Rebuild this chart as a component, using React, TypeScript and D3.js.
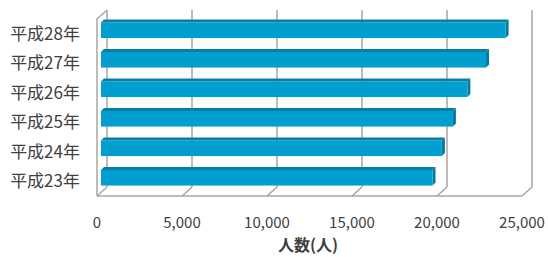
import React, { useEffect } from 'react';
import * as d3 from 'd3';

// data (平成23年 .. 平成28年)
const categories = ['平成23年', '平成24年', '平成25年', '平成26年', '平成27年', '平成28年'];
const values = [19500, 20050, 20700, 21550, 22650, 23800];
const ticks = [0, 5000, 10000, 15000, 20000, 25000];
const axisTitle = '人数(人)';

const W = 548;
const H = 257;
const font = '"Noto Sans CJK JP", "Noto Sans", sans-serif';

// 3D depth offsets
const DEPTH = { dx: 10, dy: -9 };
const BAR_OFF = { dx: 4, dy: -3.5 }; // bar front face within depth
const BAR_DEPTH = { dx: 3, dy: -3 };

const App: React.FC = () => {
  useEffect(() => {
    document.body.style.margin = '0';
    document.body.style.overflow = 'hidden';
  }, []);

  const x = d3.scaleLinear().domain([0, 25000]).range([97, 522]);
  const y = d3
    .scaleBand<string>()
    .domain([...categories].reverse())
    .range([19, 196])
    .paddingInner(0.47)
    .paddingOuter(0.235);

  const floorY = 196;
  const topY = 19;
  const grid = '#a6a6a6';

  return (
    <div style={{ position: 'fixed', left: 0, top: 0, width: W, height: H }}>
      <svg width={W} height={H} style={{ display: 'block', background: '#fff' }}>
        {/* back wall grid lines */}
        {ticks.map(t => (
          <g key={'g' + t}>
            <line
              x1={x(t) + DEPTH.dx}
              x2={x(t) + DEPTH.dx}
              y1={topY + DEPTH.dy}
              y2={floorY + DEPTH.dy}
              stroke={grid}
              strokeWidth={1.5}
            />
            <line
              x1={x(t) + DEPTH.dx}
              y1={floorY + DEPTH.dy}
              x2={x(t)}
              y2={floorY}
              stroke={grid}
              strokeWidth={1.5}
            />
          </g>
        ))}
        {/* floor front edge */}
        <line x1={x(0)} x2={x(25000)} y1={floorY} y2={floorY} stroke={grid} strokeWidth={1.5} />
        {/* left wall front edge */}
        <polyline
          points={`${x(0)},${floorY} ${x(0)},${topY} ${x(0) + DEPTH.dx},${topY + DEPTH.dy}`}
          fill="none"
          stroke={grid}
          strokeWidth={1.5}
        />

        {/* bars */}
        {categories.map((c, i) => {
          const x0 = x(0) + BAR_OFF.dx;
          const x1 = x(values[i]) + BAR_OFF.dx;
          const y0 = (y(c) || 0) + BAR_OFF.dy;
          const h = y.bandwidth();
          const { dx, dy } = BAR_DEPTH;
          return (
            <g key={c}>
              <polygon
                points={`${x0},${y0} ${x0 + dx},${y0 + dy} ${x1 + dx},${y0 + dy} ${x1},${y0}`}
                fill="#0a7ea2"
              />
              <polygon
                points={`${x1},${y0} ${x1 + dx},${y0 + dy} ${x1 + dx},${y0 + h + dy} ${x1},${y0 + h}`}
                fill="#07799c"
              />
              <rect x={x0} y={y0} width={x1 - x0} height={h} fill="#009fcf" />
            </g>
          );
        })}

        {/* category labels */}
        {categories.map(c => (
          <text
            key={'l' + c}
            x={80}
            y={(y(c) || 0) + y.bandwidth() / 2}
            dy="0.36em"
            textAnchor="end"
            fontFamily={font}
            fontSize={17}
            fill="#404040"
          >
            {c}
          </text>
        ))}

        {/* tick labels */}
        {ticks.map(t => (
          <text
            key={'t' + t}
            x={x(t)}
            y={228}
            textAnchor="middle"
            fontFamily={font}
            fontSize={15}
            fill="#404040"
          >
            {d3.format(',')(t)}
          </text>
        ))}

        <text
          x={308}
          y={251}
          textAnchor="middle"
          fontFamily={font}
          fontSize={16}
          fontWeight="bold"
          fill="#404040"
        >
          {axisTitle}
        </text>
      </svg>
    </div>
  );
};

export default App;
